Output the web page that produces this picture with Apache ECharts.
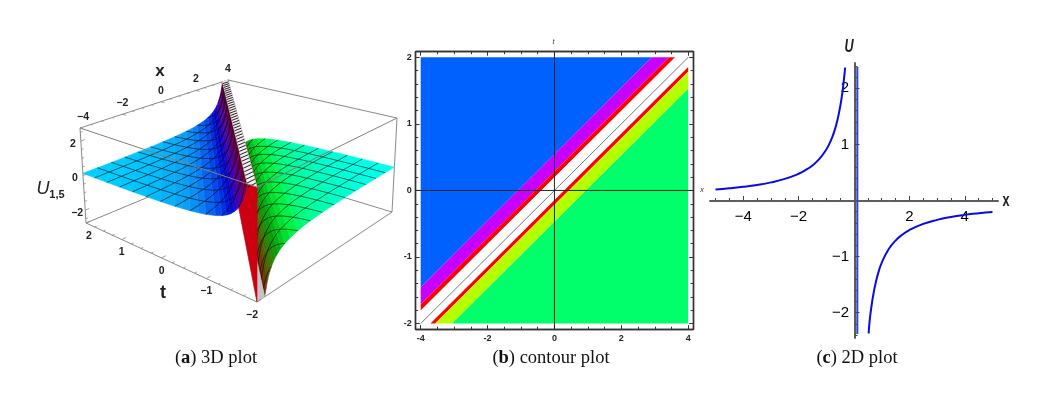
<!DOCTYPE html>
<html><head><meta charset="utf-8">
<style>html,body{margin:0;padding:0;background:#fff}#c{width:1043px;height:399px}</style>
<script src="https://cdn.jsdelivr.net/npm/echarts@6/dist/echarts.min.js"></script>
</head><body><div id="c"></div>
<script>
// ---- Panel (a): surface profile, |x-2t| against U on each side of the pole
const xiNodes = [0.36,0.42,0.5,0.55,0.6,0.667,0.75,0.85,1,1.15,1.333,1.6,2,2.3,2.667,3,3.333,4,4.667,5.333,6,6.667,7.333,8];
const uBlueSide = [2.75,2.38,2,1.82,1.67,1.5,1.33,1.18,1,0.87,0.75,0.625,0.5,0.435,0.375,0.333,0.3,0.25,0.214,0.188,0.167,0.15,0.136,0.125];
const uGreenSide = [-2.75,-2.38,-2,-1.82,-1.67,-1.5,-1.33,-1.18,-1,-0.87,-0.75,-0.625,-0.5,-0.435,-0.375,-0.333,-0.3,-0.25,-0.214,-0.188,-0.167,-0.15,-0.136,-0.125];
const meshX = [-3.333,-2.667,-2,-1.333,-0.667,0,0.667,1.333,2,2.667,3.333];
const meshT = [-1.667,-1.333,-1,-0.667,-0.333,0,0.333,0.667,1,1.333,1.667];
const ticks3dX = [-4,-2,0,2,4];
const ticks3dT = [2,1,0,-1,-2];
const ticks3dU = [2,0,-2];
// ---- Panel (b): band edges as t-x/2 offsets
const bandOffsets = [4.2,0.545,0.285,0.195,-0.145,-0.215,-0.47,-4.2];
const bandColors = ['#0061ff','#c800ff','#ff0000','#ffffff','#ff0000','#b4ff00','#00ff6a'];
const contourLine = [[-4,-2],[4,2]];
const contourXMajor = [-4,-2,0,2,4];
const contourXMinor = [-3.5,-3,-2.5,-1.5,-1,-0.5,0.5,1,1.5,2.5,3,3.5];
const contourYMajor = [-2,-1,0,1,2];
const contourYMinor = [-1.8,-1.6,-1.4,-1.2,-0.8,-0.6,-0.4,-0.2,0.2,0.4,0.6,0.8,1.2,1.4,1.6,1.8];
// ---- Panel (c): curve
const leftX = [-5,-4.5,-4,-3.5,-3,-2.5,-2,-1.75,-1.5,-1.25,-1,-0.9,-0.8,-0.7,-0.6,-0.5,-0.45,-0.4,-0.35,-0.32];
const leftU = [0.196,0.217,0.244,0.278,0.323,0.385,0.476,0.541,0.625,0.741,0.909,1,1.11,1.25,1.43,1.67,1.82,2,2.22,2.37];
const rightX = [0.53,0.55,0.6,0.65,0.7,0.8,0.9,1,1.25,1.5,1.75,2,2.5,3,3.5,4,4.5,5];
const rightU = [-2.37,-2.22,-2,-1.82,-1.67,-1.43,-1.25,-1.11,-0.87,-0.714,-0.606,-0.526,-0.417,-0.345,-0.294,-0.256,-0.227,-0.204];
const poleX = [0.12,0.12];
const poleU = [-2.38,2.38];
const lineXMajor = [-4,-2,2,4];
const lineXMinor = [-5,-4.5,-3.5,-3,-2.5,-1.5,-1,-0.5,0.5,1,1.5,2.5,3,3.5,4.5,5];
const lineYMajor = [-2,-1,1,2];
const lineYMinor = [-2.4,-2.2,-1.8,-1.6,-1.4,-1.2,-0.8,-0.6,-0.4,-0.2,0.2,0.4,0.6,0.8,1.2,1.4,1.6,1.8,2.2,2.4];

const SANS='"Liberation Sans", Arial, sans-serif';
const SERIF='"Liberation Serif", serif';

// box corners of the 3D view, top and bottom planes: (x=-4,t=2),(4,2),(4,-2),(-4,-2)
const topQuad=[[80,128],[228,80],[397,118],[257,187]];
const botQuad=[[86,223],[230,163],[392,212],[257,302]];
const U_MAX=2.75;
function homography(q){
  const [a0,a1,a2,a3]=q;
  const dx1=a1[0]-a2[0],dx2=a3[0]-a2[0],sx=a0[0]-a1[0]+a2[0]-a3[0];
  const dy1=a1[1]-a2[1],dy2=a3[1]-a2[1],sy=a0[1]-a1[1]+a2[1]-a3[1];
  const den=dx1*dy2-dx2*dy1;
  const g=(sx*dy2-dx2*sy)/den,h=(dx1*sy-sx*dy1)/den;
  const a=a1[0]-a0[0]+g*a1[0],b=a3[0]-a0[0]+h*a3[0],c=a0[0];
  const d=a1[1]-a0[1]+g*a1[1],e=a3[1]-a0[1]+h*a3[1],f=a0[1];
  return (u,v)=>{const w=g*u+h*v+1;return [(a*u+b*v+c)/w,(d*u+e*v+f)/w];};
}
const topH=homography(topQuad),botH=homography(botQuad);
function proj(x,t,U){
  const u=(x+4)/8,v=(2-t)/4;
  const p=topH(u,v),q=botH(u,v),k=(U+U_MAX)/(2*U_MAX);
  return [q[0]+(p[0]-q[0])*k,q[1]+(p[1]-q[1])*k];
}
const blueStops=[[0,[0,225,255]],[0.15,[0,205,255]],[0.35,[10,160,245]],[0.6,[5,90,240]],[1,[0,10,215]],[1.6,[85,0,165]],[2.75,[135,0,45]]];
const greenStops=[[0,[0,255,250]],[0.15,[0,255,235]],[0.35,[0,255,150]],[0.6,[0,240,60]],[1,[0,165,10]],[1.6,[75,105,0]],[2.75,[125,25,10]]];
function ramp(stops,u){
  u=Math.abs(u);
  for(let i=1;i<stops.length;i++){
    if(u<=stops[i][0]){
      const k=(u-stops[i-1][0])/(stops[i][0]-stops[i-1][0]);
      const a=stops[i-1][1],b=stops[i][1];
      return 'rgb('+a.map((v,j)=>Math.round(v+(b[j]-v)*k)).join(',')+')';
    }
  }
  const l=stops[stops.length-1][1];return 'rgb('+l.join(',')+')';
}
function stripEnds(side,a,U){
  return side<0 ? [proj(-4,(a-4)/2,U),proj(4-a,2,U)] : [proj(a-4,-2,U),proj(4,(4-a)/2,U)];
}
function surfaceShapes(side,us,stops){
  const out=[];
  for(let i=0;i<xiNodes.length-1;i++){
    const e1=stripEnds(side,xiNodes[i],us[i]),e2=stripEnds(side,xiNodes[i+1],us[i+1]);
    out.push({pts:[e1[0],e1[1],e2[1],e2[0]],col:ramp(stops,(us[i]+us[i+1])/2)});
  }
  return out;
}
function meshShapes(side,us){
  const lines=[];
  const eps=0.01;
  meshX.forEach(xk=>{
    const p=[];
    xiNodes.forEach((a,i)=>{const t=(xk-side*a)/2;if(Math.abs(t)<=2+eps)p.push(proj(xk,t,us[i]));});
    if(p.length>1)lines.push(p);
  });
  meshT.forEach(tk=>{
    const p=[];
    xiNodes.forEach((a,i)=>{const x=side*a+2*tk;if(Math.abs(x)<=4+eps)p.push(proj(x,tk,us[i]));});
    if(p.length>1)lines.push(p);
  });
  return lines;
}
const GRAY='#8a8a8a';
function seg(api,a,b,w,c){
  const p=api.coord(a),q=api.coord(b);
  return {type:'line',shape:{x1:p[0],y1:p[1],x2:q[0],y2:q[1]},style:{stroke:c||GRAY,lineWidth:w||1}};
}
const layers=[
  // back box edges
  api=>[[proj(-4,2,-U_MAX),proj(4,2,-U_MAX)],[proj(4,2,-U_MAX),proj(4,-2,-U_MAX)],[proj(4,2,-U_MAX),proj(4,2,U_MAX)],
        [proj(-4,2,U_MAX),proj(4,2,U_MAX)],[proj(4,2,U_MAX),proj(4,-2,U_MAX)],
        [proj(-4,2,-U_MAX),proj(-4,-2,-U_MAX)],[proj(-4,-2,-U_MAX),proj(4,-2,-U_MAX)],
        [proj(-4,2,U_MAX),proj(-4,2,-U_MAX)],[proj(4,-2,U_MAX),proj(4,-2,-U_MAX)],[proj(-4,-2,U_MAX),proj(-4,-2,-U_MAX)]]
        .map(s=>seg(api,s[0],s[1],1)),
  // green side
  api=>surfaceShapes(1,uGreenSide,greenStops).map(s=>poly(api,s.pts,s.col)),
  api=>meshShapes(1,uGreenSide).map(l=>pline(api,l)),
  // floor cap, wall
  api=>[poly(api,[proj(-4,-2,-U_MAX),proj(-3.64,-2,-U_MAX),proj(4,1.82,-U_MAX),proj(4,2,-U_MAX)],'#c4c4c4')],
  api=>[poly(api,[proj(-4,-2,U_MAX),proj(4,2,U_MAX),proj(4,2,-U_MAX),proj(-4,-2,-U_MAX)],'#cc0010')],
  // blue side
  api=>surfaceShapes(-1,uBlueSide,blueStops).map(s=>poly(api,s.pts,s.col)),
  api=>meshShapes(-1,uBlueSide).map(l=>pline(api,l)),
  // white cap on the top plane
  api=>{
    const out=[poly(api,[proj(-4,-2,U_MAX),proj(-4,-1.82,U_MAX),proj(3.64,2,U_MAX),proj(4,2,U_MAX)],'#efefef')];
    for(let t=-1.9;t<1.95;t+=0.1) out.push(seg(api,proj(2*t,t,U_MAX),proj(2*t-0.36,t,U_MAX),1,'#222'));
    return out;
  },
  // front box edges
  api=>[[proj(-4,2,U_MAX),proj(-4,-2,U_MAX)],[proj(-4,-2,U_MAX),proj(4,-2,U_MAX)]].map(s=>seg(api,s[0],s[1],1,'#808080')),
  // axis ticks and labels
  api=>{
    const out=[];
    for(let x=-4;x<=4;x+=0.5) out.push(seg(api,proj(x,2,U_MAX),proj(x,x%2===0?1.9:1.95,U_MAX),0.8));
    for(let t=-2;t<=2;t+=0.25) out.push(seg(api,proj(-4,t,-U_MAX),proj(t%1===0?-3.8:-3.9,t,-U_MAX),0.8));
    for(let U=-2.5;U<=2.5;U+=0.5) out.push(seg(api,proj(-4,2,U),proj(Number.isInteger(U/2)?-3.82:-3.9,2,U),0.8));
    const txt=(s,p,dx,dy)=>{const c=api.coord(p);return {type:'text',style:{text:s,x:c[0]+dx,y:c[1]+dy,fill:'#222',font:'bold 10.5px '+SANS,textAlign:'center',textVerticalAlign:'middle'}};};
    ticks3dX.forEach(x=>out.push(txt(String(x).replace('-','\u2212'),proj(x,2,U_MAX),x===-4?3:0,-11)));
    ticks3dT.forEach(t=>out.push(txt(String(t).replace('-','\u2212'),proj(-4,t,-U_MAX),t===-2?-5:t===2?3:0,13)));
    ticks3dU.forEach(U=>out.push(txt(String(U).replace('-','\u2212'),proj(-4,2,U),-8,3)));
    return out;
  }
];
function poly(api,pts,col){
  return {type:'polygon',shape:{points:pts.map(p=>api.coord(p))},style:{fill:col,stroke:col,lineWidth:0.6}};
}
function pline(api,pts){
  return {type:'polyline',shape:{points:pts.map(p=>api.coord(p))},style:{fill:null,stroke:'rgba(0,0,0,0.7)',lineWidth:0.8}};
}
// half-plane clip of a band with the plotted rectangle
function bandPolygon(c1,c2){
  let pts=[[-4,-2],[4,-2],[4,2],[-4,2]];
  const clip=(f)=>{
    const out=[];
    pts.forEach((p,i)=>{
      const q=pts[(i+1)%pts.length],a=f(p),b=f(q);
      if(a>=0)out.push(p);
      if((a>=0)!==(b>=0)){const k=a/(a-b);out.push([p[0]+(q[0]-p[0])*k,p[1]+(q[1]-p[1])*k]);}
    });
    pts=out;
  };
  clip(p=>c1-(p[1]-p[0]/2));
  clip(p=>(p[1]-p[0]/2)-c2);
  return pts;
}

// axes
const xAxes=[],yAxes=[];
xAxes.push({gridIndex:0,type:'value',min:0,max:1043,show:false});
yAxes.push({gridIndex:0,type:'value',min:0,max:399,inverse:true,show:false});
function frameAxis(list,pos,min,max,vals,len,showLabel){
  list.push({gridIndex:1,type:'value',position:pos,min,max,scale:true,splitLine:{show:false},
    axisLine:{show:true,onZero:false,lineStyle:{color:'#333',width:1.4}},
    axisTick:{show:true,inside:true,length:len,customValues:vals,lineStyle:{color:'#333',width:1}},
    axisLabel:showLabel?{show:true,customValues:vals,fontFamily:SANS,fontWeight:'bold',fontSize:9,color:'#222',margin:pos==='bottom'?5:4,
      formatter:v=>v<0?'-'+Math.abs(v):String(v)}:{show:false}});
}
const bx=[-4.15,4.15],by=[-2.085,2.085];
frameAxis(xAxes,'bottom',bx[0],bx[1],contourXMajor,4,true);
frameAxis(xAxes,'bottom',bx[0],bx[1],contourXMinor,2.5,false);
frameAxis(xAxes,'top',bx[0],bx[1],contourXMajor,4,false);
frameAxis(xAxes,'top',bx[0],bx[1],contourXMinor,2.5,false);
frameAxis(yAxes,'left',by[0],by[1],contourYMajor,4,true);
frameAxis(yAxes,'left',by[0],by[1],contourYMinor,2.5,false);
frameAxis(yAxes,'right',by[0],by[1],contourYMajor,4,false);
frameAxis(yAxes,'right',by[0],by[1],contourYMinor,2.5,false);
const bXi=1,bYi=1; // first axes of panel b
function lineAxis(list,pos,min,max,vals,len,showLabel,margin,offset){
  list.push({gridIndex:2,type:'value',position:pos,offset,min,max,scale:true,splitLine:{show:false},
    axisLine:{show:true,onZero:false,lineStyle:{color:'#555',width:1.6}},
    axisTick:{show:true,inside:true,length:len,customValues:vals,lineStyle:{color:'#444',width:1}},
    axisLabel:showLabel?{show:true,customValues:vals,fontFamily:SANS,fontSize:15,color:'#000',margin,
      formatter:v=>v<0?'\u2212'+Math.abs(v):String(v)}:{show:false}});
}
const cXi=xAxes.length,cYi=yAxes.length;
lineAxis(xAxes,'bottom',-5.2,5.2,lineXMajor,4.5,true,9,-137.5);
lineAxis(xAxes,'bottom',-5.2,5.2,lineXMinor,2.5,false,0,-137.5);
lineAxis(yAxes,'left',-2.45,2.45,lineYMajor,4.5,true,6,-145);
lineAxis(yAxes,'left',-2.45,2.45,lineYMinor,2.5,false,0,-145);

const pair=(xs,ys)=>xs.map((x,i)=>[x,ys[i]]);
const option={
  animation:false,backgroundColor:'#fff',
  grid:[
    {left:0,top:0,width:1043,height:399},
    {left:415.7,top:51.7,width:277.5,height:277.5},
    {left:710,top:63,width:288,height:275}
  ],
  xAxis:xAxes,yAxis:yAxes,
  series:[
    {type:'custom',xAxisIndex:0,yAxisIndex:0,coordinateSystem:'cartesian2d',clip:false,silent:true,
     data:layers.map((_,i)=>[i,0]),encode:{x:0,y:1},
     renderItem:(params,api)=>({type:'group',children:layers[api.value(0)](api)})},
    {type:'custom',xAxisIndex:bXi,yAxisIndex:bYi,coordinateSystem:'cartesian2d',clip:false,silent:true,
     data:bandColors.map((_,i)=>[i,0]),encode:{x:0,y:1},
     renderItem:(params,api)=>{
       const i=api.value(0);
       return {type:'polygon',shape:{points:bandPolygon(bandOffsets[i],bandOffsets[i+1]).map(p=>api.coord(p))},style:{fill:bandColors[i]}};
     }},
    {type:'line',xAxisIndex:bXi,yAxisIndex:bYi,data:contourLine,symbol:'none',silent:true,z:3,lineStyle:{color:'#777',width:1}},
    {type:'line',xAxisIndex:bXi,yAxisIndex:bYi,data:[[0,by[0]],[0,by[1]]],symbol:'none',silent:true,z:4,lineStyle:{color:'#222',width:1}},
    {type:'line',xAxisIndex:bXi,yAxisIndex:bYi,data:[[bx[0],0],[bx[1],0]],symbol:'none',silent:true,z:4,lineStyle:{color:'#222',width:1}},
    {type:'line',xAxisIndex:cXi,yAxisIndex:cYi,data:pair(leftX,leftU),smooth:true,symbol:'none',silent:true,lineStyle:{color:'#0a0ae6',width:2}},
    {type:'line',xAxisIndex:cXi,yAxisIndex:cYi,data:pair(rightX,rightU),smooth:true,symbol:'none',silent:true,lineStyle:{color:'#0a0ae6',width:2}},
    {type:'line',xAxisIndex:cXi,yAxisIndex:cYi,data:pair(poleX,poleU),symbol:'none',silent:true,lineStyle:{color:'#2a40e0',width:2}}
  ],
  graphic:{elements:[
    tx('x',160,71,'bold 17px '+SANS,'#222'),
    tx('t',163,293,'bold 18px '+SANS,'#222'),
    tx('U',43,189,'italic 18px '+SANS,'#222'),
    tx('1,5',57,195,'bold 11px '+SANS,'#222'),
    tx('t',553.5,42,'italic 7px '+SANS,'#334'),
    tx('x',702,190.5,'italic 7px '+SANS,'#334'),
    tx('U',849,47,'italic bold 18px '+SANS,'#222',0.7),
    tx('x',1006,201,'bold 18px '+SANS,'#222',0.7),
    cap('a','3D plot',216,358),
    cap('b','contour plot',551,358),
    cap('c','2D plot',857,358)
  ]}
};
function tx(text,x,y,font,fill,sx){
  return {type:'text',z:50,silent:true,x,y,scaleX:sx||1,style:{text,x:0,y:0,font,fill,textAlign:'center',textVerticalAlign:'middle'}};
}
function cap(letter,rest,x,y){
  return {type:'text',z:50,silent:true,style:{text:'('+'{b|'+letter+'}) '+rest,x,y,font:'18.5px '+SERIF,fill:'#111',textAlign:'center',textVerticalAlign:'middle',
    rich:{b:{font:'bold 18.5px '+SERIF,fill:'#111'}}}};
}
echarts.init(document.getElementById('c'),null,{renderer:'canvas'}).setOption(option);
</script></body></html>
